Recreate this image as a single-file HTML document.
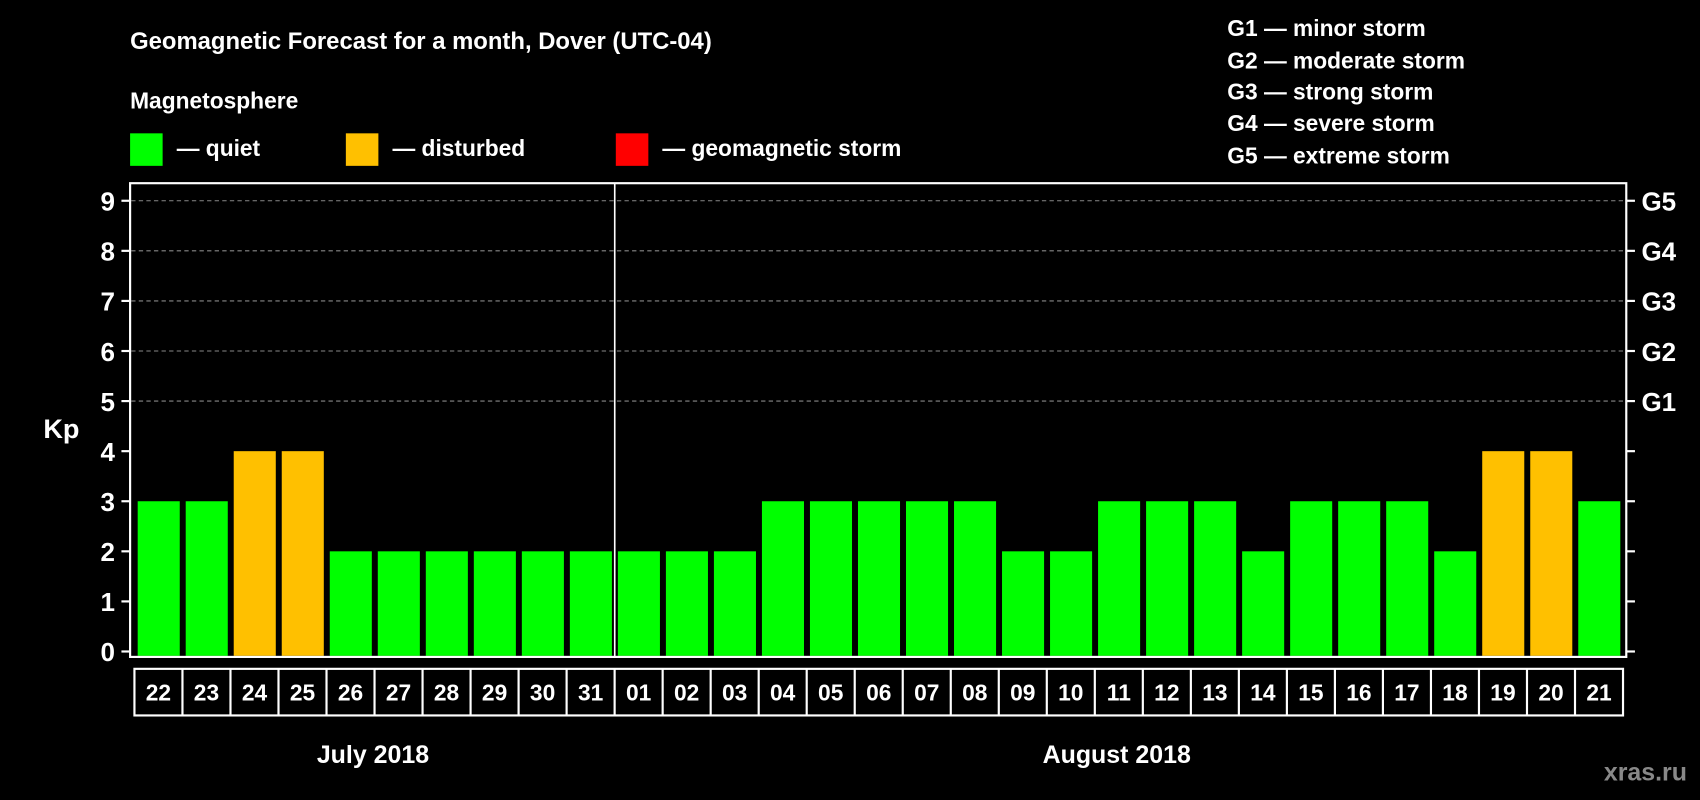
<!DOCTYPE html>
<html><head><meta charset="utf-8"><style>
html,body{margin:0;padding:0;background:#000;}
svg{display:block;font-family:"Liberation Sans",Arial,sans-serif;font-weight:bold;}
</style></head><body>
<svg id="chart" width="1700" height="800" viewBox="0 0 1568 738" preserveAspectRatio="none" xmlns="http://www.w3.org/2000/svg">
<rect x="0" y="0" width="1568" height="738" fill="#000"/>
<text x="120" y="45" fill="#fff" font-size="22">Geomagnetic Forecast for a month, Dover (UTC-04)</text>
<text x="120" y="100" fill="#fff" font-size="21">Magnetosphere</text>
<g><rect x="120" y="123" width="30" height="30" fill="#00ff00"/><text x="163" y="144" fill="#fff" font-size="21">— quiet</text></g>
<g><rect x="319" y="123" width="30" height="30" fill="#ffc000"/><text x="362" y="144" fill="#fff" font-size="21">— disturbed</text></g>
<g><rect x="568" y="123" width="30" height="30" fill="#ff0000"/><text x="611" y="144" fill="#fff" font-size="21">— geomagnetic storm</text></g>
<g fill="#fff" font-size="21">
<text x="1132" y="33">G1 — minor storm</text>
<text x="1132" y="63">G2 — moderate storm</text>
<text x="1132" y="92">G3 — strong storm</text>
<text x="1132" y="121">G4 — severe storm</text>
<text x="1132" y="151">G5 — extreme storm</text>
</g>
<text x="40" y="404" fill="#fff" font-size="25">Kp</text>
<g id="grid"></g>
<g id="bars"></g>
<rect x="120" y="169" width="1380" height="437" fill="none" stroke="#fff" stroke-width="2"/>
<line x1="567" y1="169" x2="567" y2="606" stroke="#fff" stroke-width="1.5"/>
<g id="yaxis"></g>
<g id="xaxis"></g>
<text x="344" y="704" fill="#fff" font-size="23" text-anchor="middle">July 2018</text>
<text x="1030" y="704" fill="#fff" font-size="23" text-anchor="middle">August 2018</text>
<text x="1556" y="720" fill="#888" font-size="23" text-anchor="end">xras.ru</text>
</svg>
<script>
const days = ["22","23","24","25","26","27","28","29","30","31","01","02","03","04","05","06","07","08","09","10","11","12","13","14","15","16","17","18","19","20","21"];
const kpValues = [3,3,4,4,2,2,2,2,2,2,2,2,2,3,3,3,3,3,2,2,3,3,3,2,3,3,3,2,4,4,3];
const yTicks = [0,1,2,3,4,5,6,7,8,9];
const gLabels = ["G1","G2","G3","G4","G5"];
const NS="http://www.w3.org/2000/svg";
function y(v){return 601 - v*46.2;}
const x0=124, pitch=(1497-124)/days.length;
function x(i){return x0 + i*pitch;}
function mk(tag,attrs,parent){const e=document.createElementNS(NS,tag);for(const k in attrs)e.setAttribute(k,attrs[k]);parent.appendChild(e);return e;}
const grid=document.getElementById('grid'), bars=document.getElementById('bars'), ya=document.getElementById('yaxis'), xa=document.getElementById('xaxis');
yTicks.forEach(v=>{
  if(v>=5){const g=mk('line',{x1:121,x2:1499,y1:y(v),y2:y(v),stroke:'#888','stroke-dasharray':'4,3','stroke-width':1},grid);
  
  }
  const t=mk('line',{x1:112,x2:120,y1:y(v),y2:y(v),stroke:'#fff','stroke-width':2},ya);
  
  
  const l=mk('text',{x:106,y:y(v)+9,fill:'#fff','font-size':24,'text-anchor':'end'},ya);
  l.textContent=v;
  
  
  const r=mk('line',{x1:1500,x2:1508,y1:y(v),y2:y(v),stroke:'#fff','stroke-width':2},ya);
  
  
});
gLabels.forEach((g,i)=>{
  const l=mk('text',{x:1514,y:y(5+i)+9,fill:'#fff','font-size':24},ya);
  l.textContent=g;
  
  
});
kpValues.forEach((v,i)=>{
  const col=v>=5?'#ff0000':(v>=4?'#ffc000':'#00ff00');
  const b=mk('rect',{x:x(i)+3,y:y(v),width:pitch-5.5,height:605-y(v),fill:col},bars);
  
  
});
const box=mk('rect',{x:124,y:617,width:1373,height:43,fill:'none',stroke:'#fff','stroke-width':2},xa);


days.forEach((d,i)=>{
  if(i>0){const s=mk('line',{x1:x(i),x2:x(i),y1:617,y2:660,stroke:'#fff','stroke-width':2},xa);
  
  }
  const t=mk('text',{x:x(i)+pitch/2,y:646,fill:'#fff','font-size':21,'text-anchor':'middle'},xa);
  t.textContent=d;
  
  
});
</script>
</body></html>
